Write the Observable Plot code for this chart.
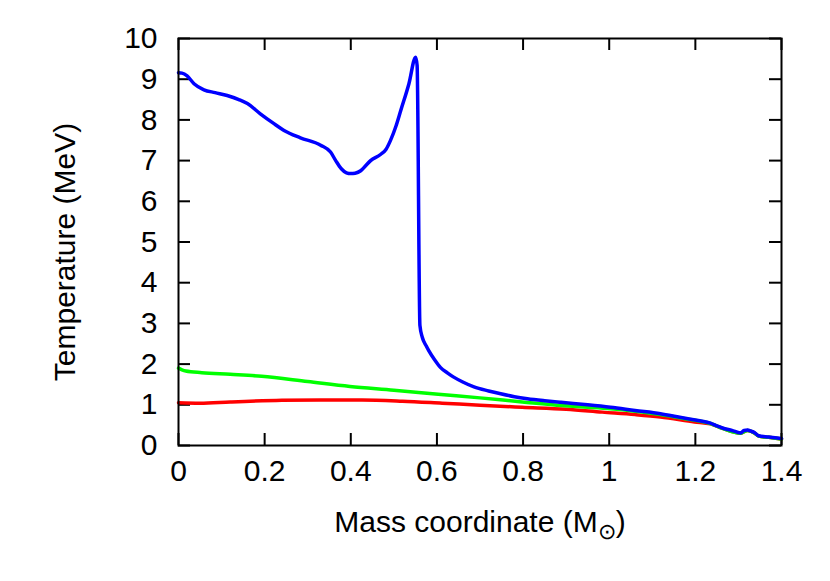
<!DOCTYPE html>
<html>
<head>
<meta charset="utf-8">
<script src="https://cdn.jsdelivr.net/npm/d3@7"></script>
<script src="https://cdn.jsdelivr.net/npm/@observablehq/plot@0.6"></script>
<style>
html, body { margin: 0; padding: 0; background: white; overflow: hidden; }
</style>
</head>
<body>
<div id="chart"></div>
<script>
const xTicks = [0, 0.2, 0.4, 0.6, 0.8, 1, 1.2, 1.4];
const yTicks = [0, 1, 2, 3, 4, 5, 6, 7, 8, 9, 10];
const xLabel = "Mass coordinate (M";
const xLabelSub = "⊙";
const yLabel = "Temperature (MeV)";

const blueX = [0, 0.008, 0.02, 0.036, 0.059, 0.085, 0.113, 0.14, 0.16, 0.19, 0.22, 0.245, 0.283, 0.33, 0.353, 0.365, 0.378, 0.39, 0.40, 0.41, 0.423, 0.435, 0.446, 0.469, 0.482, 0.492, 0.505, 0.516, 0.535, 0.5505, 0.554, 0.5605, 0.566, 0.575, 0.581, 0.595, 0.608, 0.625, 0.639, 0.66, 0.686, 0.72, 0.748, 0.78, 0.81, 0.85, 0.888, 0.95, 1.003, 1.06, 1.119, 1.17, 1.21, 1.235, 1.25, 1.263, 1.285, 1.305, 1.313, 1.321, 1.33, 1.337, 1.347, 1.37, 1.4];
const blueY = [9.16, 9.15, 9.08, 8.89, 8.74, 8.67, 8.60, 8.50, 8.40, 8.15, 7.92, 7.74, 7.56, 7.38, 7.21, 7.00, 6.80, 6.70, 6.68, 6.69, 6.75, 6.88, 7.00, 7.15, 7.28, 7.49, 7.85, 8.23, 8.89, 9.54, 9.34, 2.95, 2.66, 2.45, 2.33, 2.10, 1.92, 1.78, 1.68, 1.56, 1.44, 1.34, 1.27, 1.20, 1.15, 1.10, 1.06, 1.00, 0.94, 0.86, 0.78, 0.68, 0.61, 0.55, 0.48, 0.43, 0.37, 0.31, 0.37, 0.38, 0.35, 0.32, 0.24, 0.21, 0.17];

const greenX = [0, 0.008, 0.017, 0.054, 0.12, 0.193, 0.30, 0.398, 0.50, 0.603, 0.70, 0.798, 0.891, 0.95, 1.003, 1.06, 1.119, 1.17, 1.21, 1.235, 1.263, 1.305, 1.321, 1.337, 1.347, 1.37, 1.4];
const greenY = [1.90, 1.86, 1.83, 1.79, 1.75, 1.70, 1.57, 1.45, 1.36, 1.26, 1.17, 1.07, 0.98, 0.94, 0.90, 0.84, 0.76, 0.67, 0.60, 0.54, 0.42, 0.30, 0.37, 0.31, 0.23, 0.20, 0.16];

const redX = [0, 0.05, 0.12, 0.24, 0.33, 0.426, 0.52, 0.612, 0.70, 0.798, 0.90, 0.984, 1.06, 1.119, 1.198, 1.235, 1.263, 1.305, 1.321, 1.337, 1.347, 1.37, 1.4];
const redY = [1.05, 1.04, 1.07, 1.11, 1.12, 1.12, 1.09, 1.04, 0.99, 0.94, 0.89, 0.82, 0.76, 0.70, 0.58, 0.53, 0.42, 0.30, 0.37, 0.31, 0.23, 0.20, 0.16];

const pts = (xs, ys) => xs.map((x, i) => [x, ys[i]]);

const W = 830, H = 581;
const mTop = 38, mRight = 49, mBottom = 136, mLeft = 178;
const innerH = H - mTop - mBottom;
const innerW = W - mLeft - mRight;
const tickLen = 12;
const font = "'Liberation Sans', Arial, Helvetica, sans-serif";

const plot = Plot.plot({
  width: W, height: H,
  marginTop: mTop, marginRight: mRight, marginBottom: mBottom, marginLeft: mLeft,
  style: { fontFamily: font, fontSize: "30px", color: "black", background: "white" },
  x: { domain: [0, 1.4] },
  y: { domain: [0, 10] },
  marks: [
    Plot.axisX(xTicks, { tickSize: 0, tickPadding: 14, label: null, tickFormat: d => String(d), fontSize: 30 }),
    Plot.axisY(yTicks, { tickSize: 0, tickPadding: 21, label: null, tickFormat: d => String(d), fontSize: 30 }),
    Plot.tickX(xTicks, { x: d => d, insetTop: innerH - tickLen, stroke: "black", strokeWidth: 2 }),
    Plot.tickX(xTicks, { x: d => d, insetBottom: innerH - tickLen, stroke: "black", strokeWidth: 2 }),
    Plot.tickY(yTicks, { y: d => d, insetRight: innerW - tickLen, stroke: "black", strokeWidth: 2 }),
    Plot.tickY(yTicks, { y: d => d, insetLeft: innerW - tickLen, stroke: "black", strokeWidth: 2 }),
    Plot.line(pts(redX, redY), { stroke: "#ff0000", strokeWidth: 3.5, curve: "monotone-x" }),
    Plot.line(pts(greenX, greenY), { stroke: "#00ff00", strokeWidth: 3.5, curve: "monotone-x" }),
    Plot.line(pts(blueX, blueY), { stroke: "#0000ff", strokeWidth: 3.5, curve: "monotone-x" }),
    Plot.frame({ stroke: "black", strokeWidth: 2 })
  ]
});

const svg = d3.select(plot);
const xl = svg.append("text")
  .attr("x", 480).attr("y", 532)
  .attr("text-anchor", "middle")
  .attr("font-family", font).attr("font-size", 30).attr("fill", "black");
xl.append("tspan").text(xLabel);
xl.append("tspan").attr("dy", 7).attr("font-size", 22).text(xLabelSub);
xl.append("tspan").attr("dy", -7).text(")");

svg.append("text")
  .attr("transform", "translate(75,252) rotate(-90)")
  .attr("text-anchor", "middle")
  .attr("font-family", font).attr("font-size", 30).attr("fill", "black")
  .text(yLabel);

document.getElementById("chart").appendChild(plot);
</script>
</body>
</html>
